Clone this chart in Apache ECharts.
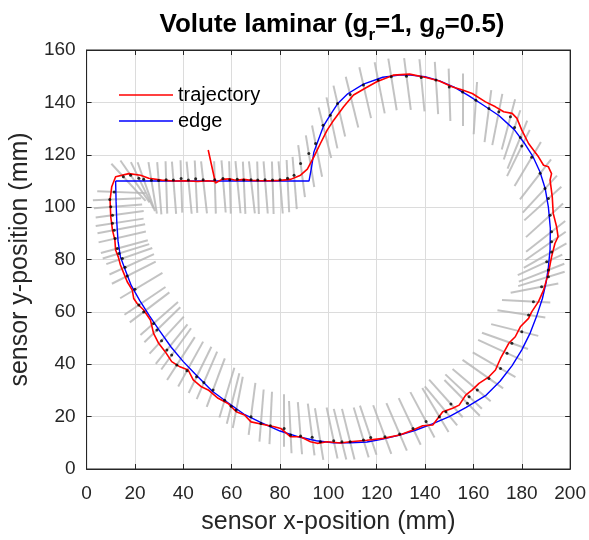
<!DOCTYPE html>
<html>
<head>
<meta charset="utf-8">
<script src="https://cdn.jsdelivr.net/npm/echarts@6/dist/echarts.min.js"></script>
<style>
html, body { margin: 0; padding: 0; background: #fff; }
#chart { width: 589px; height: 540px; }
</style>
</head>
<body>
<div id="chart"></div>
<script>
// volute edge (mm)
var edgePts = [
  [12,110],[92,110],[93,115],[94,121],[96,126],[98,131],[101,135.5],[104,139.7],[108,143.3],
  [114.5,147],[122.5,149.6],[130,150.5],[134,150.4],[140,149.8],[146,148.2],[152,145.8],
  [158,142.6],[164,139],[170.5,135],[177,129.5],[181,124.5],[184.5,119.5],[187.5,113.5],
  [189.7,107],[191,100],[191.8,92],[191.7,84],[191,77],[190,71],[188.5,65],[186,58],
  [183.5,52],[180,45.5],[176,39.5],[171,33.5],[165,28],[157,23.5],[150,20],[143,17.2],
  [136,14.8],[129.5,13],[122,11.3],[116,10.3],[109,10],[102,10],[95,10.8],[88,12.2],
  [80,14.5],[72,17.8],[65,21],[58.5,25.3],[52,29.7],[44.7,36.5],[40,41],[35,46.5],
  [30,53],[26,58.5],[22,64.3],[18.5,70],[16,76],[14,81],[13,87],[12.5,94],[12.2,102],[12,110]
];

// sensor trajectory (mm)
var trajPts = [
  [50.3,121.8],[53.3,109.2],[56,110.6],[59,110.8],[62,110.2],[65,110.6],[68,110.2],[72,110.1],
  [76,110.1],[80,110.2],[84.4,110.6],[88.5,112.2],[91.3,114.5],[94,119.2],[96.7,124.3],
  [99.5,129.4],[102.2,133.2],[106.3,138.3],[110.4,142.8],[115.2,145.4],[120,147.9],
  [126.8,150.4],[133.6,150.8],[140.4,149.5],[145.9,148.2],[151.4,145.9],[155.5,144.7],
  [159.5,143.4],[165,140.2],[169.1,138.3],[172.5,136.4],[176,135.8],[178,133.9],[180,129.4],
  [182.8,124.3],[184.8,121.8],[186.9,119.2],[189,116],[191,115.4],[192.3,112.8],[191.7,110.3],
  [192.6,103.9],[193,97.6],[194.4,92.5],[195,88.7],[193.7,86.1],[192.3,81],[191,74.7],
  [189,68.3],[186.9,63.9],[184.1,60],[182.8,57.5],[179.4,54.3],[177.3,50.5],[174.6,48],
  [171.2,42.2],[169.1,37.8],[166.4,35.2],[162.3,32.7],[159.5,30.2],[156.8,28.2],[154.1,24.4],
  [151.4,23.2],[147.3,21.9],[143.2,16.8],[139,16.5],[135,14.9],[129.5,13],[122.7,11.7],
  [115.9,11],[109,10.4],[105,9.9],[99.5,10.4],[95.4,9.8],[92.6,10.4],[88.5,12.3],[84.4,12.3],
  [80.3,15.5],[77.6,16.1],[72.1,17.2],[68,18],[65.3,20.6],[61.9,21.9],[58.5,25],[54.4,27],
  [50.3,30.2],[47.5,31.4],[44.1,34],[42,37.8],[38.6,39],[35.2,41],[32.5,44.8],[29.8,48],
  [27.7,51.8],[26.4,56.9],[23.6,60.7],[20.9,63.2],[19.5,65.1],[18.9,68.3],[16.8,71.5],
  [15.4,74.7],[14,77.9],[13.1,81],[12,83.6],[11.7,87.4],[10.7,91.2],[10,96.3],[9.7,102.7],
  [10.4,107.8],[12,111.6],[17.5,112.8],[22.3,112.2],[25.7,111],[31,110.3],[36,110],
  [41,110.1],[46,109.8],[50,110.1],[53.3,109.8]
];

// measured contact points (mm)
var dotPts = [
  [15.2,111.6],[18.2,112.2],[21.6,111],[23.6,110.6],[26.8,110.3],[29.8,110.2],[32.9,110.5],
  [35.9,110.4],[39.1,110.9],[42.1,110.4],[45.1,110.8],[48.2,110.5],[53,110.5],[56.4,110.9],
  [59.2,110.5],[62.3,110.6],[65,110.4],[68,110.5],[70.8,110.4],[73.8,110.5],[76.9,110.4],
  [80,110.5],[83.1,111],[85.8,112.2],
  [88.5,116.7],[91.9,120.5],[94.7,124.3],[97.8,131.3],[100.8,135.1],[103.8,139.6],
  [109,143],[114.5,146.6],[120.6,148.5],[126,149.8],[132.3,150],[138.4,149.5],[144.5,148.5],
  [150,145.9],[155.5,144],[161,140.8],[166.4,137.7],[170.5,136.4],[175.3,134.5],[177,130.4],
  [179.4,126.6],[180,123.3],[184.1,119],[187.6,112.9],[189.6,107.1],[191,103.3],
  [191.7,96.9],[192.3,90.6],[192.3,86.8],[192.3,82.9],[190.3,79.1],[191,76],[191,73.4],
  [188.2,69.6],[184.8,63.9],[182.8,58.8],[180,52.4],[175.9,48],[173.9,44.2],[171.2,38.4],
  [166.4,34.6],[161.6,30.2],[158.2,27.6],[157.5,25.1],[150.7,24.8],[148.6,21.9],[145.9,20],
  [140.4,18.1],[135,15.5],[129.5,13.4],[123.4,12.3],[117.5,12],[114.5,11.1],[109,10.4],
  [105.6,10.4],[102.2,10.8],[96.7,10.4],[93.3,12.1],[88.5,12.6],[84.4,13],[81.7,15.5],
  [76,16.5],[72.1,17.4],[68,20],[61.9,22.5],[59.8,24],[57.1,26.3],[52.3,30.2],[48.5,33],
  [45.5,35.2],[41.5,37.5],[37.3,39.7],[35.2,43.5],[33.2,45.4],[31,49],[29.1,53.1],
  [27.7,55.6],[23.6,60],[21.6,62.6],[20,68.6],[16.8,73.7],[15.9,77],[14.8,80.4],[13.4,82.3],
  [12.7,84.2],[11.8,88],[11.4,91.2],[10.7,93.8],[10.7,96.9],[10,100.1],[9.6,102.9],[11.4,105.8]
];

// sensor orientation at each point (deg, pointing out of the volute)
var whiskerAng = [
  135,127,118,111,100,95,92,95,92,96,93,97,92,95,92,96,93,97,92,95,92,95,93,95,
  98,100,102,105,103,104,
  105,104,102,100,98,96,94,92,90,86,82,78,74,70,66,62,57,50,45,40,
  40,36,33,28,23,20,16,10,
  -3,-8,-13,-18,-23,-28,-33,-38,-41,-43,-46,-48,
  -57,-60,-63,-65,-68,-70,-72,-75,-75,-77,-80,-82,-85,-87,-90,-93,-95,
  -98,-102,-105,-108,-112,-115,-118,-121,-125,-128,-131,-135,-138,-141,-145,-148,-151,-155,-157,
  -162,-164,-166,-168,-170,-172,-173,-176,-178,178,170
];
var reachOut = 7, reachIn = 13; // whisker extent each side of point (mm)

var whiskerData = dotPts.map(function (d, i) {
    var a = whiskerAng[i] * Math.PI / 180;
    var c = Math.cos(a), s = Math.sin(a);
    return {coords: [[d[0] + reachOut * c, d[1] + reachOut * s],
                     [d[0] - reachIn * c, d[1] - reachIn * s]]};
});

var font = 'Liberation Sans';
var ink = '#262626';

var chart = echarts.init(document.getElementById('chart'));

// extra axes only to draw the inner ticks on the top and right of the box
function tickAxis(pos, isX) {
    return {
        type: 'value',
        position: pos,
        min: 0,
        max: isX ? 200 : 160,
        interval: 20,
        axisLine: {show: true, onZero: false, lineStyle: {color: ink, width: 1}},
        axisTick: {show: true, inside: true, length: 5, lineStyle: {color: ink}},
        axisLabel: {show: false},
        splitLine: {show: false}
    };
}

chart.setOption({
    animation: false,
    backgroundColor: '#fff',
    title: {
        text: '{a|Volute laminar (g}{s|r}{a|=1, g}{t|θ}{a|=0.5)}',
        left: 327,
        top: 7,
        textAlign: 'center',
        textStyle: {
            rich: {
                a: {fontFamily: font, fontSize: 26, fontWeight: 'bold', color: '#000',
                    lineHeight: 28, verticalAlign: 'top'},
                s: {fontFamily: font, fontSize: 17, fontWeight: 'bold', color: '#000',
                    lineHeight: 17, verticalAlign: 'top', padding: [15, 0, 0, 0]},
                t: {fontFamily: font, fontSize: 17, fontStyle: 'italic', color: '#000',
                    lineHeight: 17, verticalAlign: 'top', padding: [14, 0, 0, 0]}
            }
        }
    },
    legend: {
        data: ['trajectory', 'edge'],
        orient: 'vertical',
        left: 119,
        top: 85,
        padding: 0,
        itemWidth: 54,
        itemHeight: 20,
        itemGap: 6,
        icon: 'path://M0,0 L54,0 L54,1.6 L0,1.6 Z',
        textStyle: {fontFamily: font, fontSize: 20, color: '#000', lineHeight: 20}
    },
    grid: {left: 84, right: 17, top: 50, bottom: 71, show: true,
           borderColor: ink, borderWidth: 1, backgroundColor: '#fff'},
    xAxis: [{
        type: 'value',
        min: 0, max: 200, interval: 20,
        name: 'sensor x-position (mm)',
        nameLocation: 'middle',
        nameGap: 41,
        nameTextStyle: {fontFamily: font, fontSize: 25, color: ink},
        axisLine: {show: true, onZero: false, lineStyle: {color: ink, width: 1}},
        axisTick: {show: true, inside: true, length: 5, lineStyle: {color: ink}},
        axisLabel: {fontFamily: font, fontSize: 19, color: ink, margin: 15},
        splitLine: {show: true, lineStyle: {color: '#dcdcdc', width: 1}}
    }, tickAxis('top', true)],
    yAxis: [{
        type: 'value',
        min: 0, max: 160, interval: 20,
        name: 'sensor y-position (mm)',
        nameLocation: 'middle',
        nameGap: 49,
        nameTextStyle: {fontFamily: font, fontSize: 25, color: ink},
        axisLine: {show: true, onZero: false, lineStyle: {color: ink, width: 1}},
        axisTick: {show: true, inside: true, length: 5, lineStyle: {color: ink}},
        axisLabel: {fontFamily: font, fontSize: 19, color: ink, margin: 11},
        splitLine: {show: true, lineStyle: {color: '#dcdcdc', width: 1}}
    }, tickAxis('right', false)],
    series: [{
        name: 'whiskers',
        type: 'lines',
        coordinateSystem: 'cartesian2d',
        silent: true,
        z: 1,
        lineStyle: {color: '#b4b4b4', width: 2, opacity: 0.8},
        data: whiskerData
    }, {
        name: 'edge',
        type: 'line',
        symbol: 'none',
        z: 2,
        lineStyle: {color: '#0000ff', width: 1.4},
        itemStyle: {color: '#0000ff'},
        data: edgePts
    }, {
        name: 'trajectory',
        type: 'line',
        symbol: 'none',
        z: 3,
        lineStyle: {color: '#ff0000', width: 1.6},
        itemStyle: {color: '#ff0000'},
        data: trajPts
    }, {
        name: 'points',
        type: 'scatter',
        symbolSize: 3,
        z: 4,
        itemStyle: {color: '#000'},
        data: dotPts
    }]
});
</script>
</body>
</html>
